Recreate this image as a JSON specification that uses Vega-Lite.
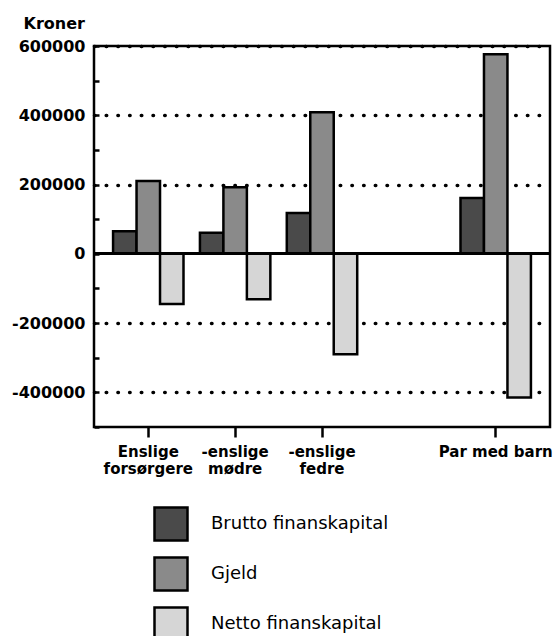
{
  "$schema": "https://vega.github.io/schema/vega-lite/v6.json",
  "autosize": "none",
  "width": 456,
  "height": 381,
  "padding": {"left": 94, "top": 46, "right": 4, "bottom": 209},
  "background": "white",
  "config": {
    "view": {"stroke": "black", "strokeWidth": 2.5},
    "font": "DejaVu Sans"
  },
  "data": {
    "values": [
      {"gruppe": "Enslige forsørgere", "serie": "Brutto finanskapital", "kroner": 65000},
      {"gruppe": "Enslige forsørgere", "serie": "Gjeld", "kroner": 210000},
      {"gruppe": "Enslige forsørgere", "serie": "Netto finanskapital", "kroner": -145000},
      {"gruppe": "-enslige mødre", "serie": "Brutto finanskapital", "kroner": 61000},
      {"gruppe": "-enslige mødre", "serie": "Gjeld", "kroner": 192000},
      {"gruppe": "-enslige mødre", "serie": "Netto finanskapital", "kroner": -131000},
      {"gruppe": "-enslige fedre", "serie": "Brutto finanskapital", "kroner": 118000},
      {"gruppe": "-enslige fedre", "serie": "Gjeld", "kroner": 409000},
      {"gruppe": "-enslige fedre", "serie": "Netto finanskapital", "kroner": -290000},
      {"gruppe": "Par med barn", "serie": "Brutto finanskapital", "kroner": 161000},
      {"gruppe": "Par med barn", "serie": "Gjeld", "kroner": 576000},
      {"gruppe": "Par med barn", "serie": "Netto finanskapital", "kroner": -415000}
    ]
  },
  "encoding": {
    "y": {
      "field": "kroner",
      "type": "quantitative",
      "scale": {"domain": [-500000, 600000], "nice": false, "zero": false},
      "axis": {
        "title": "Kroner",
        "titleAngle": 0,
        "titleAlign": "left",
        "titleBaseline": "alphabetic",
        "titleX": -71,
        "titleY": -18,
        "titleFont": "DejaVu Sans",
        "titleFontSize": 16,
        "titleFontWeight": "bold",
        "titleColor": "black",
        "values": [-500000, -400000, -300000, -200000, -100000, 0, 100000, 200000, 300000, 400000, 500000, 600000],
        "labelExpr": "datum.value % 200000 === 0 ? '' + datum.value : ''",
        "labelFont": "DejaVu Sans",
        "labelFontSize": 16,
        "labelFontWeight": "bold",
        "labelColor": "black",
        "labelPadding": 14,
        "labelOverlap": false,
        "labelFlush": false,
        "domain": false,
        "ticks": true,
        "tickSize": -5,
        "tickColor": "black",
        "tickWidth": 2.5,
        "grid": true,
        "gridColor": "black",
        "gridWidth": 3.5,
        "gridCap": "round",
        "gridDash": [0.5, 11.2],
        "gridOpacity": {"condition": {"test": "datum.value === 0 || datum.value % 200000 !== 0", "value": 0}, "value": 1}
      }
    }
  },
  "layer": [
    {
      "mark": {"type": "bar", "stroke": "black", "strokeWidth": 2.5, "opacity": 1},
      "encoding": {
        "x": {
          "field": "gruppe",
          "type": "nominal",
          "scale": {
            "domain": ["Enslige forsørgere", "-enslige mødre", "-enslige fedre", "_", "Par med barn"],
            "paddingInner": 0,
            "paddingOuter": 0.125
          },
          "axis": {
            "title": null,
            "labelAngle": 0,
            "labelExpr": "datum.value === '_' ? '' : (datum.value === 'Par med barn' ? datum.value : split(datum.value, ' '))",
            "labelFont": "DejaVu Sans",
            "labelFontSize": 15,
            "labelFontWeight": "bold",
            "labelColor": "black",
            "labelLineHeight": 17,
            "labelPadding": 7,
            "labelOverlap": false,
            "labelBound": false,
            "labelLimit": 300,
            "domain": false,
            "grid": false,
            "tickSize": 10,
            "tickWidth": 2.5,
            "tickColor": "black",
            "tickOpacity": {"condition": {"test": "datum.value === '_'", "value": 0}, "value": 1}
          }
        },
        "xOffset": {
          "field": "serie",
          "type": "nominal",
          "sort": ["Brutto finanskapital", "Gjeld", "Netto finanskapital"],
          "scale": {"paddingInner": 0, "paddingOuter": 0.35}
        },
        "color": {
          "field": "serie",
          "type": "nominal",
          "scale": {
            "domain": ["Brutto finanskapital", "Gjeld", "Netto finanskapital"],
            "range": ["#4a4a4a", "#8a8a8a", "#d6d6d6"]
          },
          "legend": {
            "orient": "none",
            "legendX": 59,
            "legendY": 460,
            "direction": "vertical",
            "title": null,
            "padding": 0,
            "symbolType": "square",
            "symbolSize": 1089,
            "symbolStrokeColor": "black",
            "symbolStrokeWidth": 2.5,
            "symbolOpacity": 1,
            "labelFont": "DejaVu Sans",
            "labelFontSize": 18,
            "labelColor": "black",
            "labelOffset": 22,
            "labelLimit": 320,
            "rowPadding": 6
          }
        }
      }
    },
    {
      "mark": {"type": "rule", "color": "black", "strokeWidth": 2.5},
      "encoding": {"y": {"datum": 0}}
    }
  ]
}
